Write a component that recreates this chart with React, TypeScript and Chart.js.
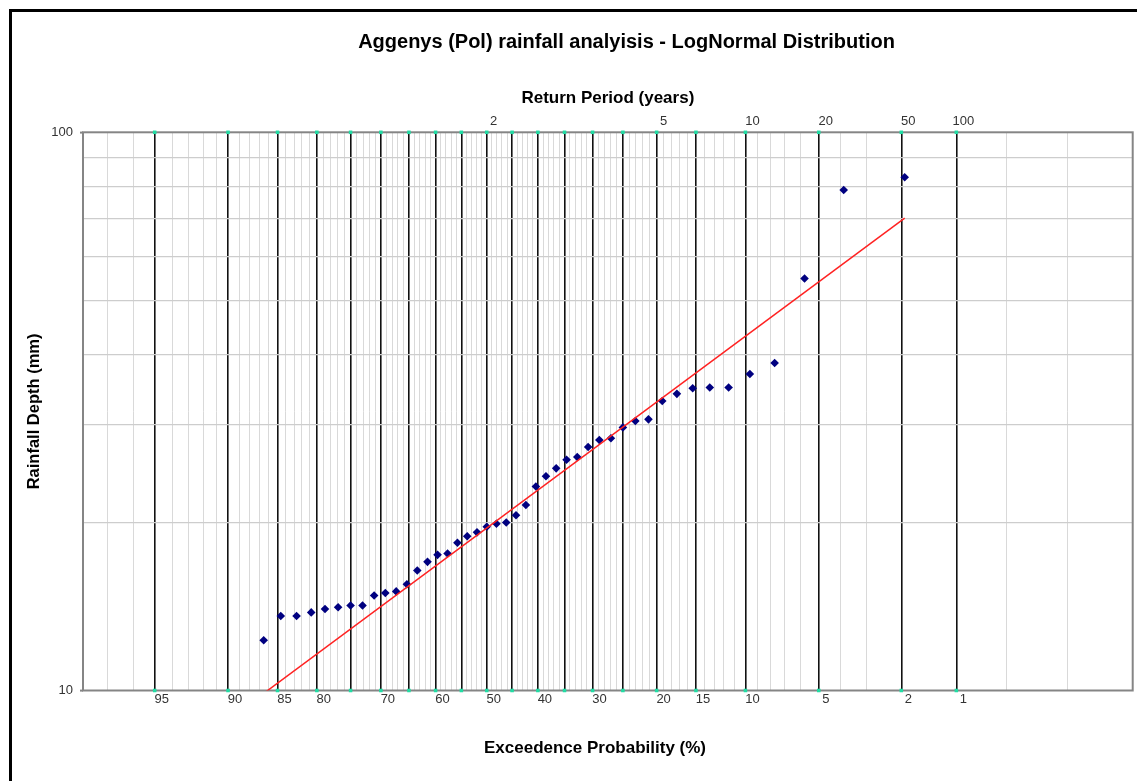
import React, { useEffect, useRef } from "react";
import { Chart, registerables } from "chart.js";

Chart.register(...registerables);

const chartTitle = "Aggenys (Pol) rainfall analyisis - LogNormal Distribution";
const topAxisTitle = "Return Period (years)";
const bottomAxisTitle = "Exceedence Probability (%)";
const yAxisTitle = "Rainfall Depth (mm)";

// Observed annual maxima (plotting positions, % exceedance) and rainfall depth (mm)
const exceedanceProb = [
  1.92, 3.85, 5.77, 7.69, 9.62, 11.54, 13.46, 15.38, 17.31, 19.23,
  21.15, 23.08, 25.0, 26.92, 28.85, 30.77, 32.69, 34.62, 36.54, 38.46,
  40.38, 42.31, 44.23, 46.15, 48.08, 50.0, 51.92, 53.85, 55.77, 57.69,
  59.62, 61.54, 63.46, 65.38, 67.31, 69.23, 71.15, 73.08, 75.0, 76.92,
  78.85, 80.77, 82.69, 84.62, 86.54,
];
const rainfallDepth = [
  83.1, 78.8, 54.7, 38.6, 36.9, 34.9, 34.9, 34.8, 34.0, 33.0,
  30.6, 30.4, 29.6, 28.3, 28.1, 27.3, 26.2, 25.9, 25.0, 24.2,
  23.2, 21.5, 20.6, 20.0, 19.9, 19.65, 19.2, 18.9, 18.4, 17.6,
  17.5, 17.0, 16.4, 15.5, 15.05, 14.95, 14.8, 14.2, 14.2, 14.1,
  14.0, 13.8, 13.6, 13.6, 12.3,
];

// Fitted LogNormal line
const fitProb = [86.54, 1.92];
const fitDepth = [9.88, 70.2];

// Probability grid
const majorProb = [95, 90, 85, 80, 75, 70, 65, 60, 55, 50, 45, 40, 35, 30, 25, 20, 15, 10, 5, 2, 1];
const labelledProb = [95, 90, 85, 80, 70, 60, 50, 40, 30, 20, 15, 10, 5, 2, 1];
const minorProb = [
  97, 96, 94, 93, 92, 91, 89, 88, 87, 86, 84, 83, 82, 81, 79, 78, 77, 76,
  74, 73, 72, 71, 69, 68, 67, 66, 64, 63, 62, 61, 59, 58, 57, 56, 54, 53,
  52, 51, 49, 48, 47, 46, 44, 43, 42, 41, 39, 38, 37, 36, 34, 33, 32, 31,
  29, 28, 27, 26, 24, 23, 22, 21, 19, 18, 17, 16, 14, 13, 12, 11, 9, 8,
  7, 6, 4, 3, 0.5, 0.2,
];
const returnPeriods = [2, 5, 10, 20, 50, 100];
const yTickValues = [10, 20, 30, 40, 50, 60, 70, 80, 90, 100];
const yLabelled = [10, 100];

// inverse standard normal CDF (Acklam)
function probit(p: number): number {
  const a = [-3.969683028665376e1, 2.209460984245205e2, -2.759285104469687e2, 1.38357751867269e2, -3.066479806614716e1, 2.506628277459239];
  const b = [-5.447609879822406e1, 1.615858368580409e2, -1.556989798598866e2, 6.680131188771972e1, -1.328068155288572e1];
  const c = [-7.784894002430293e-3, -3.223964580411365e-1, -2.400758277161838, -2.549732539343734, 4.374664141464968, 2.938163982698783];
  const d = [7.784695709041462e-3, 3.224671290700398e-1, 2.445134137142996, 3.754408661907416];
  const pl = 0.02425;
  if (p < pl) {
    const q = Math.sqrt(-2 * Math.log(p));
    return (((((c[0] * q + c[1]) * q + c[2]) * q + c[3]) * q + c[4]) * q + c[5]) / ((((d[0] * q + d[1]) * q + d[2]) * q + d[3]) * q + 1);
  }
  if (p <= 1 - pl) {
    const q = p - 0.5;
    const r = q * q;
    return ((((((a[0] * r + a[1]) * r + a[2]) * r + a[3]) * r + a[4]) * r + a[5]) * q) / (((((b[0] * r + b[1]) * r + b[2]) * r + b[3]) * r + b[4]) * r + 1);
  }
  const q = Math.sqrt(-2 * Math.log(1 - p));
  return -(((((c[0] * q + c[1]) * q + c[2]) * q + c[3]) * q + c[4]) * q + c[5]) / ((((d[0] * q + d[1]) * q + d[2]) * q + d[3]) * q + 1);
}
// exceedance % -> standard normal variate
const zOf = (pct: number) => probit(1 - pct / 100);

const FONT = "'Liberation Sans', Arial, Helvetica, sans-serif";

export default function App() {
  const ref = useRef<HTMLCanvasElement>(null);

  useEffect(() => {
    if (!ref.current) return;
    Chart.defaults.font.family = FONT;
    Chart.defaults.color = "#000";

    const xTickObjs = [
      ...majorProb.map((p) => ({ pct: p, isMajor: true })),
      ...minorProb.map((p) => ({ pct: p, isMajor: false })),
    ]
      .map((t) => ({ value: zOf(t.pct), pct: t.pct, isMajor: t.isMajor }))
      .sort((a, b) => a.value - b.value);

    const frameAndBorder = {
      id: "frameAndBorder",
      beforeDraw(chart: any) {
        const ctx = chart.ctx;
        ctx.save();
        ctx.fillStyle = "#000";
        ctx.fillRect(9, 9, 3, 781 - 9);
        ctx.fillRect(9, 9, 1137 - 9, 3);
        ctx.restore();
      },
      beforeDatasetsDraw(chart: any) {
        const { ctx, chartArea } = chart;
        ctx.save();
        ctx.strokeStyle = "#858585";
        ctx.lineWidth = 2;
        ctx.strokeRect(chartArea.left, chartArea.top, chartArea.right - chartArea.left, chartArea.bottom - chartArea.top);
        ctx.restore();
      },
    };

    const shiftTitles = {
      id: "shiftTitles",
      afterLayout(chart: any) {
        for (const box of chart.boxes) {
          const t = box && box.options && box.options.text;
          if (t === chartTitle) {
            box.left = 626.5 - 560;
            box.right = 626.5 + 560;
          } else if (t === bottomAxisTitle) {
            box.left = 595 - 500;
            box.right = 595 + 500;
          }
        }
      },
    };

    const chart = new Chart(ref.current, {
      type: "scatter",
      data: {
        datasets: [
          {
            label: "LogNormal fit",
            data: fitProb.map((p, i) => ({ x: zOf(p), y: fitDepth[i] })),
            showLine: true,
            borderColor: "#ff2222",
            borderWidth: 1.5,
            pointRadius: 0,
            fill: false,
          },
          {
            label: "Observed",
            data: exceedanceProb.map((p, i) => ({ x: zOf(p), y: rainfallDepth[i] })),
            pointStyle: "rectRot",
            pointRadius: 4.3,
            pointBackgroundColor: "#000080",
            pointBorderColor: "#000080",
            pointBorderWidth: 0,
            showLine: false,
          },
          {
            label: "Grid markers",
            data: majorProb.flatMap((p) => [
              { x: zOf(p), y: 10 },
              { x: zOf(p), y: 100 },
            ]),
            pointStyle: "rect",
            pointRadius: 2.5,
            pointBackgroundColor: "#22dca4",
            pointBorderWidth: 0,
            showLine: false,
            clip: false,
          } as any,
        ],
      },
      options: {
        responsive: false,
        animation: false,
        events: [],
        layout: { padding: { left: 0, right: 2, top: 0, bottom: 0 } },
        plugins: {
          legend: { display: false },
          tooltip: { enabled: false },
          title: {
            display: true,
            text: chartTitle,
            color: "#000",
            font: { size: 20, weight: "bold", family: FONT },
            padding: { top: 30, bottom: 0 },
          },
          subtitle: {
            display: true,
            position: "bottom",
            text: bottomAxisTitle,
            color: "#000",
            font: { size: 17, weight: "bold", family: FONT },
            padding: { top: 0, bottom: 22.8 },
          },
        },
        scales: {
          x: {
            type: "linear",
            position: "bottom",
            min: -2,
            max: 3.2,
            afterBuildTicks: (s: any) => {
              s.ticks = xTickObjs.map((t) => ({ ...t }));
            },
            afterFit: (s: any) => {
              s.height = 47.3;
            },
            ticks: {
              autoSkip: false,
              maxRotation: 0,
              minRotation: 0,
              padding: 1,
              labelOffset: 7,
              color: "#333",
              font: { size: 13, family: FONT },
              callback: (_v: any, i: number, ticks: any[]) => {
                const t = ticks[i];
                return labelledProb.includes(t.pct) ? String(t.pct) : "";
              },
            },
            grid: {
              drawTicks: false,
              color: (ctx: any) => (ctx.tick && ctx.tick.isMajor ? "#111" : "#d9d9d9"),
              lineWidth: (ctx: any) => (ctx.tick && ctx.tick.isMajor ? 1.6 : 1),
            },
            border: { display: false },
          },
          x2: {
            type: "linear",
            position: "top",
            min: -2,
            max: 3.2,
            afterBuildTicks: (s: any) => {
              s.ticks = returnPeriods.map((T) => ({ value: zOf(100 / T), T }));
            },
            afterFit: (s: any) => {
              s.height = 78.3;
            },
            ticks: {
              autoSkip: false,
              maxRotation: 0,
              minRotation: 0,
              padding: 3.5,
              labelOffset: 7,
              color: "#333",
              font: { size: 13, family: FONT },
              callback: (_v: any, i: number, ticks: any[]) => String(ticks[i].T),
            },
            grid: { display: false, drawTicks: false },
            border: { display: false },
            title: {
              display: true,
              text: topAxisTitle,
              color: "#000",
              font: { size: 17, weight: "bold", family: FONT },
              padding: { top: 33.8, bottom: 0 },
            },
          },
          y: {
            type: "logarithmic",
            position: "left",
            min: 10,
            max: 100,
            afterBuildTicks: (s: any) => {
              s.ticks = yTickValues.map((v) => ({ value: v }));
            },
            afterFit: (s: any) => {
              s.width = 83;
            },
            ticks: {
              autoSkip: false,
              padding: 7,
              color: "#333",
              font: { size: 13, family: FONT },
              callback: (v: any) => (yLabelled.includes(Number(v)) ? String(v) : ""),
            },
            grid: {
              drawTicks: true,
              tickLength: 3,
              tickWidth: 2,
              color: (ctx: any) =>
                ctx.tick && yLabelled.includes(ctx.tick.value) ? "rgba(0,0,0,0)" : "#cdcdcd",
              tickColor: (ctx: any) =>
                ctx.tick && yLabelled.includes(ctx.tick.value) ? "#858585" : "rgba(0,0,0,0)",
              lineWidth: 1.2,
            },
            border: { display: false },
            title: {
              display: true,
              text: yAxisTitle,
              color: "#000",
              font: { size: 16.5, weight: "bold", family: FONT },
              padding: { top: 25, bottom: 0 },
            },
          },
        },
      } as any,
      plugins: [frameAndBorder, shiftTitles],
    });

    return () => chart.destroy();
  }, []);

  return (
    <div style={{ position: "absolute", left: 0, top: 0, width: 1137, height: 781 }}>
      <canvas ref={ref} width={1137} height={781} style={{ display: "block", width: 1137, height: 781 }} />
    </div>
  );
}
